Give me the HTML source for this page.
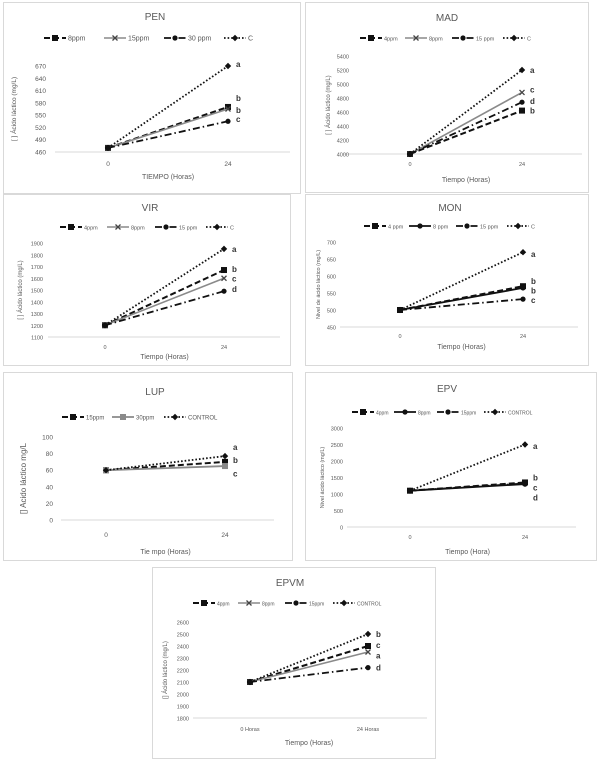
<!DOCTYPE html>
<html><head><meta charset="utf-8">
<style>
html,body{margin:0;padding:0;background:#fff;}
svg{display:block;font-family:"Liberation Sans",sans-serif;}
</style></head>
<body>
<svg id="fig" width="607" height="761" viewBox="0 0 607 761" xmlns="http://www.w3.org/2000/svg"></svg>
<script>
// ---- DATA ----
const penCats=["0","24"], penSeriesNames=["8ppm","15ppm","30 ppm","C"];
const pen8=[470,570], pen15=[470,565], pen30=[470,535], penC=[470,670];
const penTicks=[460,490,520,550,580,610,640,670];
const penLetters=["a","b","b","c"], penLetterY=[675,592,562,540];

const madCats=["0","24"], madSeriesNames=["4ppm","8ppm","15 ppm","C"];
const mad4=[4000,4620], mad8=[4000,4880], mad15=[4000,4740], madC=[4000,5200];
const madTicks=[4000,4200,4400,4600,4800,5000,5200,5400];
const madLetters=["a","c","d","b"], madLetterY=[5200,4920,4760,4620];

const virCats=["0","24"], virSeriesNames=["4ppm","8ppm","15 ppm","C"];
const vir4=[1200,1670], vir8=[1200,1600], vir15=[1200,1490], virC=[1200,1850];
const virTicks=[1100,1200,1300,1400,1500,1600,1700,1800,1900];
const virLetters=["a","b","c","d"], virLetterY=[1850,1680,1600,1510];

const monCats=["0","24"], monSeriesNames=["4 ppm","8 ppm","15 ppm","C"];
const mon4=[500,570], mon8=[500,565], mon15=[500,532], monC=[500,670];
const monTicks=[450,500,550,600,650,700];
const monLetters=["a","b","b","c"], monLetterY=[665,585,557,530];

const lupCats=["0","24"], lupSeriesNames=["15ppm","30ppm","CONTROL"];
const lup15=[60,70], lup30=[60,65], lupC=[60,77];
const lupTicks=[0,20,40,60,80,100];
const lupLetters=["a","b","c"], lupLetterY=[88,72,56];

const epvCats=["0","24"], epvSeriesNames=["4ppm","8ppm","15ppm","CONTROL"];
const epv4=[1100,1350], epv8=[1100,1300], epv15=[1100,1320], epvC=[1100,2500];
const epvTicks=[0,500,1000,1500,2000,2500,3000];
const epvLetters=["a","b","c","d"], epvLetterY=[2450,1500,1200,900];

const epvmCats=["0 Horas","24 Horas"], epvmSeriesNames=["4ppm","8ppm","15ppm","CONTROL"];
const epvm4=[2100,2400], epvm8=[2100,2350], epvm15=[2100,2220], epvmC=[2100,2500];
const epvmTicks=[1800,1900,2000,2100,2200,2300,2400,2500,2600];
const epvmLetters=["b","c","a","d"], epvmLetterY=[2500,2410,2320,2220];

// ---- STYLES ----
const ST={
 dash:{stroke:"#111",w:2,da:"6,3",m:"square"},
 gray:{stroke:"#8a8a8a",w:1.6,da:"",m:"x"},
 solid:{stroke:"#111",w:1.8,da:"",m:"circle"},
 gsq:{stroke:"#8a8a8a",w:1.8,da:"",m:"square"},
 dashdot:{stroke:"#111",w:1.8,da:"7,3,1.5,3",m:"circle"},
 dot:{stroke:"#111",w:1.8,da:"1.6,2",m:"diamond"}
};
const NS="http://www.w3.org/2000/svg";
const fig=document.getElementById("fig");
function mk(tag,attrs,parent){const e=document.createElementNS(NS,tag);for(const k in attrs)e.setAttribute(k,attrs[k]);(parent||fig).appendChild(e);return e;}
function marker(g,type,x,y,col){
 let e;
 if(type==="square"){e=mk("rect",{x:x-3,y:y-3,width:6,height:6,fill:col},g);}
 else if(type==="circle"){e=mk("circle",{cx:x,cy:y,r:2.6,fill:col},g);}
 else if(type==="diamond"){e=mk("polygon",{points:`${x},${y-3.2} ${x+3.2},${y} ${x},${y+3.2} ${x-3.2},${y}`,fill:col},g);}
 else {e=mk("path",{d:`M${x-2.5},${y-2.5}L${x+2.5},${y+2.5}M${x+2.5},${y-2.5}L${x-2.5},${y+2.5}`,stroke:"#444","stroke-width":1.3},g);}
 
 
}
function panel(p){
 const g=mk("g",{});
 
 
 const box=mk("rect",{x:p.box[0]+.5,y:p.box[1]+.5,width:p.box[2]-p.box[0],height:p.box[3]-p.box[1],fill:"#fff",stroke:"#d9d9d9","stroke-width":1},g);
 
 
 const t=mk("text",{x:p.titleX,y:p.titleY,"text-anchor":"middle","font-size":10,fill:"#595959"},g);t.textContent=p.title;
 
 
 const yMin=p.ticks[0],yMax=p.ticks[p.ticks.length-1];
 const ys=v=>p.yBot-(v-yMin)/(yMax-yMin)*(p.yBot-p.yTop);
 const xs=i=>p.xPos[0]+i*(p.xPos[1]-p.xPos[0]);
 const ax=mk("line",{x1:p.axis[0],x2:p.axis[1],y1:p.yBot,y2:p.yBot,stroke:"#d9d9d9","stroke-width":1},g);
 
 
 p.ticks.forEach(v=>{const e=mk("text",{x:p.tickX,y:ys(v)+2.5,"text-anchor":"end","font-size":p.tfs||6.5,fill:"#595959"},g);e.textContent=v;
  
  });
 p.cats.forEach((c,i)=>{const e=mk("text",{x:xs(i),y:p.catY,"text-anchor":"middle","font-size":p.tfs||6.5,fill:"#595959"},g);e.textContent=c;
  
  });
 const xt=mk("text",{x:(p.xPos[0]+p.xPos[1])/2,y:p.xtY,"text-anchor":"middle","font-size":7,fill:"#595959"},g);xt.textContent=p.xtitle;
 
 
 const cy=(p.yTop+p.yBot)/2;
 const yt=mk("text",{x:p.ytX,y:cy,"text-anchor":"middle","font-size":p.ytfs||6.5,fill:"#595959",transform:`rotate(-90 ${p.ytX} ${cy})`},g);yt.textContent=p.ytitle;
 
 
 // series
 p.series.forEach((s,si)=>{
  const st=ST[p.styles[si]];
  const pts=s.map((v,i)=>xs(i)+","+ys(v)).join(" ");
  const l=mk("polyline",{points:pts,fill:"none",stroke:st.stroke,"stroke-width":st.w,"stroke-dasharray":st.da},g);
  
  
  s.forEach((v,i)=>marker(g,st.m,xs(i),ys(v),st.stroke));
 });
 p.letters.forEach((L,i)=>{const e=mk("text",{x:xs(1)+8,y:ys(p.letterY[i])+3,"font-size":8,"font-weight":"bold",fill:"#333"},g);e.textContent=L;
  
  });
 // legend
 let lx=p.legX;
 p.names.forEach((n,i)=>{
  const st=ST[p.styles[i]];
  const lg=mk("g",{},g);
  
  
  mk("line",{x1:lx,x2:lx+22,y1:p.legY,y2:p.legY,stroke:st.stroke,"stroke-width":st.w,"stroke-dasharray":st.da},lg);
  marker(lg,st.m,lx+11,p.legY,st.stroke);
  const tx=mk("text",{x:lx+24,y:p.legY+2.3,"font-size":p.lfs||6.5,fill:"#595959"},lg);tx.textContent=n;
  lx+=p.legStep[i];
 });
}
panel({id:"pen",title:"PEN",box:[3,2,300,193],titleX:155,titleY:20,legX:44,legY:38,legStep:[60,60,60],lfs:7,
 ticks:penTicks,yTop:66,yBot:152,tickX:46,xPos:[108,228],axis:[55,290],cats:penCats,catY:166,xtitle:"TIEMPO (Horas)",xtY:179,
 ytitle:"[ ] Ácido láctico (mg/L)",ytX:16,series:[pen8,pen15,pen30,penC],names:penSeriesNames,styles:["dash","gray","dashdot","dot"],letters:penLetters,letterY:penLetterY});
panel({id:"mad",title:"MAD",box:[305,2,588,192],titleX:447,titleY:21,legX:360,legY:38,legStep:[45,47,51],lfs:5.5,tfs:5.5,
 ticks:madTicks,yTop:56,yBot:154,tickX:349,xPos:[410,522],axis:[343,582],cats:madCats,catY:166,xtitle:"Tiempo (Horas)",xtY:182,
 ytitle:"[ ]  Ácido láctico (mg/L)",ytX:330,ytfs:6,series:[mad4,mad8,mad15,madC],names:madSeriesNames,styles:["dash","gray","dashdot","dot"],letters:madLetters,letterY:madLetterY});
panel({id:"vir",title:"VIR",box:[3,194,290,365],titleX:150,titleY:211,legX:60,legY:227,legStep:[47,48,51],lfs:5.5,tfs:5.5,
 ticks:virTicks,yTop:243,yBot:337,tickX:43,xPos:[105,224],axis:[48,280],cats:virCats,catY:349,xtitle:"Tiempo (Horas)",xtY:359,
 ytitle:"[ ]  Ácido láctico (mg/L)",ytX:22,ytfs:6,series:[vir4,vir8,vir15,virC],names:virSeriesNames,styles:["dash","gray","dashdot","dot"],letters:virLetters,letterY:virLetterY});
panel({id:"mon",title:"MON",box:[305,194,588,365],titleX:450,titleY:211,legX:364,legY:226,legStep:[45,47,51],lfs:5.5,tfs:5.5,
 ticks:monTicks,yTop:242,yBot:327,tickX:336,xPos:[400,523],axis:[340,578],cats:monCats,catY:338,xtitle:"Tiempo (Horas)",xtY:349,
 ytitle:"Nivel de ácido láctico (mg/L)",ytX:320,ytfs:5.5,series:[mon4,mon8,mon15,monC],names:monSeriesNames,styles:["dash","solid","dashdot","dot"],letters:monLetters,letterY:monLetterY});
panel({id:"lup",title:"LUP",box:[3,372,292,560],titleX:155,titleY:395,legX:62,legY:417,legStep:[50,52],lfs:6,tfs:6.5,
 ticks:lupTicks,yTop:437,yBot:520,tickX:53,xPos:[106,225],axis:[61,274],cats:lupCats,catY:537,xtitle:"Tie mpo  (Horas)",xtY:554,
 ytitle:"[] Acido láctico mg/L",ytX:26,ytfs:8,series:[lup15,lup30,lupC],names:lupSeriesNames,styles:["dash","gsq","dot"],letters:lupLetters,letterY:lupLetterY});
panel({id:"epv",title:"EPV",box:[305,372,596,560],titleX:447,titleY:392,legX:352,legY:412,legStep:[42,43,47],lfs:5,tfs:5.5,
 ticks:epvTicks,yTop:428,yBot:527,tickX:343,xPos:[410,525],axis:[347,576],cats:epvCats,catY:539,xtitle:"Tiempo (Hora)",xtY:554,
 ytitle:"Nivel ácido láctico (mg/L)",ytX:324,ytfs:5.5,series:[epv4,epv8,epv15,epvC],names:epvSeriesNames,styles:["dash","solid","dashdot","dot"],letters:epvLetters,letterY:epvLetterY});
panel({id:"epvm",title:"EPVM",box:[152,567,435,758],titleX:290,titleY:586,legX:193,legY:603,legStep:[45,47,48],lfs:5,tfs:5.5,
 ticks:epvmTicks,yTop:622,yBot:718,tickX:189,xPos:[250,368],axis:[193,427],cats:epvmCats,catY:731,xtitle:"Tiempo (Horas)",xtY:745,
 ytitle:"[] Ácido láctico (mg/L)",ytX:167,ytfs:6,series:[epvm4,epvm8,epvm15,epvmC],names:epvmSeriesNames,styles:["dash","gray","dashdot","dot"],letters:epvmLetters,letterY:epvmLetterY});
</script>
</body></html>
